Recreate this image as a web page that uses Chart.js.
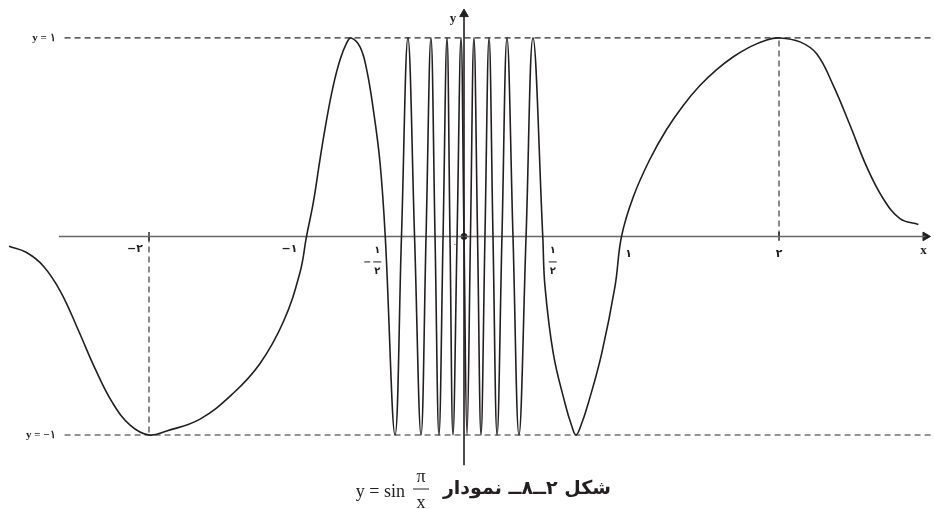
<!DOCTYPE html>
<html lang="fa">
<head>
<meta charset="utf-8">
<title>نمودار y = sin π/x</title>
<script src="https://cdn.jsdelivr.net/npm/chart.js@4.4.1/dist/chart.umd.min.js"></script>
<style>
  html, body { margin: 0; padding: 0; background: #fff; }
  #wrap { position: relative; width: 934px; height: 509px; }
</style>
</head>
<body>
<div id="wrap"><canvas id="c"></canvas></div>
<script>
// y = sin(π/x) (data units)

const X_MIN = -2.946, X_MAX = 2.984;
const Y_MIN = -1.373, Y_MAX = 1.191;

const curveX = [
  -2.889, -2.78, -2.67, -2.56, -2.45, -2.34, -2.23, -2.12, -2.0, -1.888, -1.676, -1.465, -1.295, -1.147, -1.041, -1.0,
  -0.957, -0.914, -0.872, -0.830, -0.787, -0.745, -0.717, -0.660, -0.618, -0.576, -0.533, -0.5,
  -0.438, -0.397, -0.356, -0.314, -0.273, -0.241, -0.210, -0.184, -0.159, -0.133, -0.108, -0.089, -0.070, -0.044, -0.019, 0,
  0.019, 0.041, 0.063, 0.086, 0.108, 0.133, 0.159, 0.184, 0.210, 0.241, 0.273, 0.311, 0.349, 0.394, 0.438, 0.5,
  0.514, 0.567, 0.641, 0.684, 0.711, 0.741, 0.789, 0.874, 0.959, 1.0,
  1.075, 1.181, 1.287, 1.392, 1.498, 1.604, 1.710, 1.816, 1.922, 2.0, 2.133, 2.239, 2.345, 2.451, 2.557, 2.662, 2.768, 2.885,
];
const curveY = [
  -0.05, -0.08, -0.15, -0.28, -0.47, -0.67, -0.84, -0.95, -1, -0.98, -0.92, -0.79, -0.64, -0.43, -0.18, 0,
  0.17, 0.39, 0.59, 0.76, 0.89, 0.975, 1, 0.955, 0.84, 0.64, 0.37, 0,
  -1, 0, 1, 0, -1, 0, 1, 0, -1, 0, 1, 0, -1, 0, 1, 0,
  -1, 0, 1, 0, -1, 0, 1, 0, -1, 0, 1, 0, -1, 0, 1, 0,
  -0.25, -0.59, -0.84, -0.955, -1, -0.955, -0.84, -0.59, -0.25, 0,
  0.20, 0.39, 0.54, 0.66, 0.76, 0.84, 0.905, 0.955, 0.99, 1, 0.98, 0.92, 0.76, 0.56, 0.35, 0.19, 0.09, 0.06,
];

// axes extents and guides
const xAxisRange = [-2.572, 2.93];
const yAxisRange = [-1.152, 1.12];
const guideLevels = [1, -1];
const guideStart = -2.536;
const guideLabels = ['y = ۱', 'y = −۱'];
const dropX = [-2, 2];       // vertical dashed drops to the extrema
const dropY = [-1, 1];

const tickValues = [-2, -1, 1, 2];
const tickLabels = ['−۲', '−۱', '۱', '۲'];
const halfValues = [-0.5, 0.5];
const captionFa = 'شکل ۲ــ۸ــ نمودار';

const INK = '#231f20';
const pts = (xs, ys) => xs.map((v, i) => ({ x: v, y: ys[i] }));
const seg = (a, b, extra) => Object.assign({
  data: [a, b], borderColor: INK, borderWidth: 1, pointRadius: 0, fill: false, tension: 0,
}, extra);
const dashed = { borderDash: [6, 4], borderColor: '#2b2b2b', borderWidth: 1.1 };

const datasets = [
  {
    data: pts(curveX, curveY),
    borderColor: INK, borderWidth: 1.6, pointRadius: 0, fill: false,
    tension: 0.4,
  },
  seg({ x: xAxisRange[0], y: 0 }, { x: xAxisRange[1], y: 0 }, { borderColor: '#666', borderWidth: 1.5 }),
  seg({ x: 0, y: yAxisRange[0] }, { x: 0, y: yAxisRange[1] }, { borderWidth: 1.6 }),
  ...guideLevels.map((lv) => seg({ x: guideStart, y: lv }, { x: X_MAX, y: lv }, dashed)),
  ...dropX.map((dx, i) => seg({ x: dx, y: 0 }, { x: dx, y: dropY[i] }, dashed)),
  ...dropX.map((dx) => seg({ x: dx, y: 0.022 }, { x: dx, y: -0.022 }, { borderWidth: 1.4 })),
  { // arrow heads
    data: [{ x: xAxisRange[1], y: 0 }, { x: 0, y: yAxisRange[1] }],
    showLine: false, pointStyle: 'triangle', pointRotation: [90, 0], pointRadius: 5,
    backgroundColor: INK, borderColor: INK, borderWidth: 1,
  },
  { // origin
    data: [{ x: 0, y: 0 }], showLine: false, pointRadius: 3, backgroundColor: INK, borderColor: INK,
  },
];

const labelPlugin = {
  id: 'figLabels',
  afterDatasetsDraw(chart) {
    const { ctx, scales: { x, y } } = chart;
    const px = (v) => x.getPixelForValue(v);
    const py = (v) => y.getPixelForValue(v);
    const y0 = py(0);
    ctx.save();
    ctx.fillStyle = INK;
    ctx.strokeStyle = INK;
    ctx.textBaseline = 'middle';

    // y = ±1 labels
    ctx.font = 'bold 11px "Liberation Serif", serif';
    ctx.textAlign = 'right';
    guideLevels.forEach((lv, i) => ctx.fillText(guideLabels[i], px(guideStart) - 9, py(lv)));

    // axis names
    ctx.font = 'bold 13px "Liberation Serif", serif';
    ctx.textAlign = 'center';
    ctx.fillText('y', px(0) - 11, py(yAxisRange[1]) + 5);
    ctx.fillText('x', px(xAxisRange[1]) - 2, y0 + 14);

    // integer ticks
    const tickStyle = [[-6, 13, 'right'], [-9, 13, 'right'], [7, 18, 'center'], [0, 18, 'center']];
    ctx.font = 'bold 11px "DejaVu Sans", sans-serif';
    tickValues.forEach((v, i) => {
      const [dx, dy, al] = tickStyle[i];
      ctx.textAlign = al;
      ctx.fillText(tickLabels[i], px(v) + dx, y0 + dy);
    });

    // ±1/2 fractions
    halfValues.forEach((v) => {
      const cx = px(v) + (v < 0 ? -8 : 10);
      ctx.textAlign = 'center';
      ctx.font = 'bold 10px "DejaVu Sans", sans-serif';
      ctx.fillText('۱', cx, y0 + 14);
      ctx.fillText('۲', cx, y0 + 35);
      ctx.lineWidth = 1;
      ctx.beginPath();
      ctx.moveTo(cx - 4, y0 + 25.5);
      ctx.lineTo(cx + 4, y0 + 25.5);
      ctx.stroke();
      if (v < 0) {
        ctx.beginPath();
        ctx.moveTo(cx - 13, y0 + 25.5);
        ctx.lineTo(cx - 7, y0 + 25.5);
        ctx.stroke();
      }
    });

    // zero
    ctx.font = '8px "DejaVu Sans", sans-serif';
    ctx.textAlign = 'center';
    ctx.fillText('۰', px(0) - 9, y0 + 8);

    // caption
    const capY = 489;
    ctx.font = 'bold 19px "DejaVu Sans", sans-serif';
    ctx.textAlign = 'right';
    ctx.direction = 'rtl';
    ctx.fillText(captionFa, 611, capY);
    ctx.direction = 'ltr';
    ctx.font = '18px "Liberation Serif", serif';
    ctx.textAlign = 'right';
    ctx.fillText('y = sin', 405, capY + 3);
    ctx.textAlign = 'center';
    ctx.fillText('π', 421, capY - 12);
    ctx.fillText('x', 421, capY + 14);
    ctx.lineWidth = 1;
    ctx.beginPath();
    ctx.moveTo(413, capY);
    ctx.lineTo(429, capY);
    ctx.stroke();
    ctx.restore();
  },
};

new Chart(document.getElementById('c'), {
  type: 'line',
  data: { datasets },
  options: {
    responsive: true,
    maintainAspectRatio: false,
    animation: false,
    layout: { padding: 0, autoPadding: false },
    plugins: { legend: { display: false }, tooltip: { enabled: false } },
    scales: {
      x: { type: 'linear', min: X_MIN, max: X_MAX, display: false },
      y: { type: 'linear', min: Y_MIN, max: Y_MAX, display: false },
    },
  },
  plugins: [labelPlugin],
});
</script>
</body>
</html>
